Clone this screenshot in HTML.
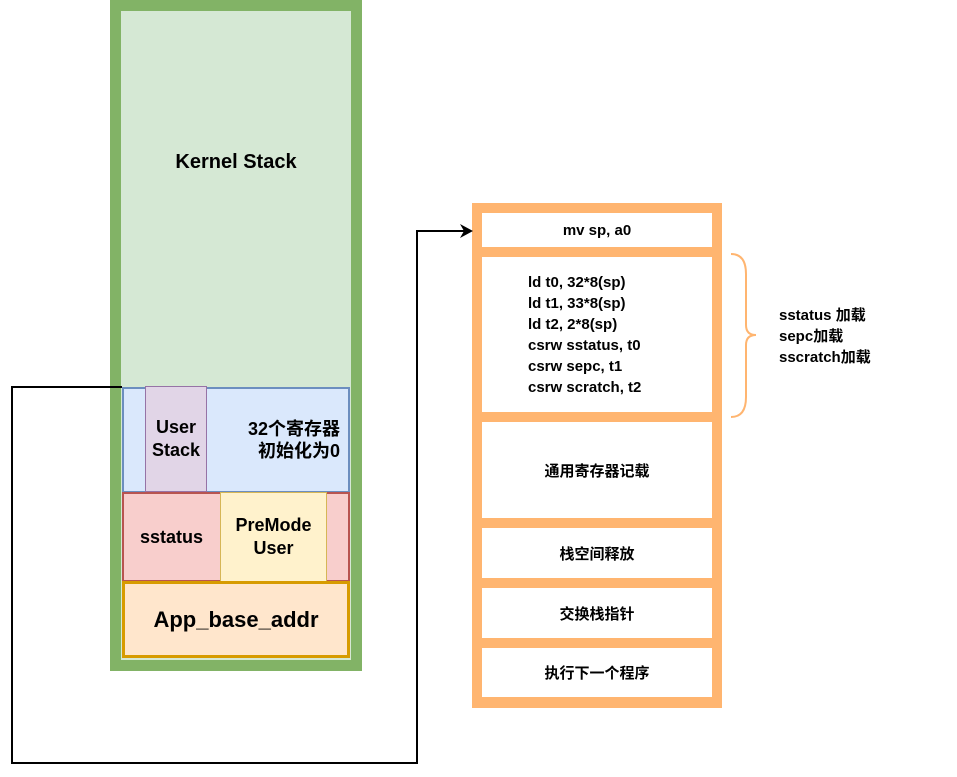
<!DOCTYPE html>
<html><head><meta charset="utf-8"><style>
body{margin:0;width:957px;height:777px;background:#fff;position:relative;overflow:hidden;font-family:"Liberation Sans","Noto Sans CJK SC",sans-serif;font-weight:bold;color:#000}
.b{position:absolute;box-sizing:border-box;display:flex;align-items:center;justify-content:center;text-align:center}
</style></head><body>
<div class="b" style="left:110px;top:0;width:252px;height:671px;background:#d5e8d4;border:11px solid #82b366"></div>
<div class="b" style="left:120px;top:140px;width:232px;height:44px;font-size:20px">Kernel Stack</div>
<div class="b" style="left:122px;top:387px;width:228px;height:106px;background:#dae8fc;border:2px solid #6c8ebf;justify-content:flex-end;padding-right:8px;font-size:18px;line-height:22px;text-align:right">32个寄存器<br>初始化为0</div>
<div class="b" style="left:145px;top:386px;width:62px;height:106px;background:#e1d5e7;border:1px solid #9673a6;font-size:18px;line-height:23px">User<br>Stack</div>
<div class="b" style="left:122px;top:492px;width:228px;height:90px;background:#f8cecc;border:2px solid #b85450;justify-content:flex-start;padding-left:16px;font-size:18px">sstatus</div>
<div class="b" style="left:220px;top:492px;width:107px;height:90px;background:#fff2cc;border:1px solid #d6b656;font-size:18px;line-height:23px">PreMode<br>User</div>
<div class="b" style="left:122px;top:581px;width:228px;height:77px;background:#ffe6cc;border:3px solid #d79b00;font-size:22px">App_base_addr</div>

<div style="position:absolute;left:472px;top:203px;width:250px;height:505px;background:#ffb570"></div>
<div class="b" style="left:482px;top:213px;width:230px;height:34px;background:#fff;font-size:15px">mv sp, a0</div>
<div class="b" style="left:482px;top:257px;width:230px;height:155px;background:#fff;font-size:15px;line-height:21px;text-align:left;justify-content:flex-start;padding-left:46px">ld t0, 32*8(sp)<br>ld t1, 33*8(sp)<br>ld t2, 2*8(sp)<br>csrw sstatus, t0<br>csrw sepc, t1<br>csrw scratch, t2</div>
<div class="b" style="left:482px;top:422px;width:230px;height:96px;background:#fff;font-size:15px">通用寄存器记载</div>
<div class="b" style="left:482px;top:528px;width:230px;height:50px;background:#fff;font-size:15px">栈空间释放</div>
<div class="b" style="left:482px;top:588px;width:230px;height:50px;background:#fff;font-size:15px">交换栈指针</div>
<div class="b" style="left:482px;top:648px;width:230px;height:49px;background:#fff;font-size:15px">执行下一个程序</div>

<div style="position:absolute;left:779px;top:305px;font-size:15px;line-height:21px">sstatus 加载<br>sepc加载<br>sscratch加载</div>

<svg width="957" height="777" style="position:absolute;left:0;top:0">
<polyline points="122,387 12,387 12,763 417,763 417,231 464,231" fill="none" stroke="#000" stroke-width="2"/>
<polygon points="473,231 460,224 464,231 460,238" fill="#000"/>
<path d="M731,254 Q746,254 746,274 L746,325 Q746,335 756,335 Q746,335 746,345 L746,397 Q746,417 731,417" fill="none" stroke="#ffb570" stroke-width="2"/>
</svg>
</body></html>
